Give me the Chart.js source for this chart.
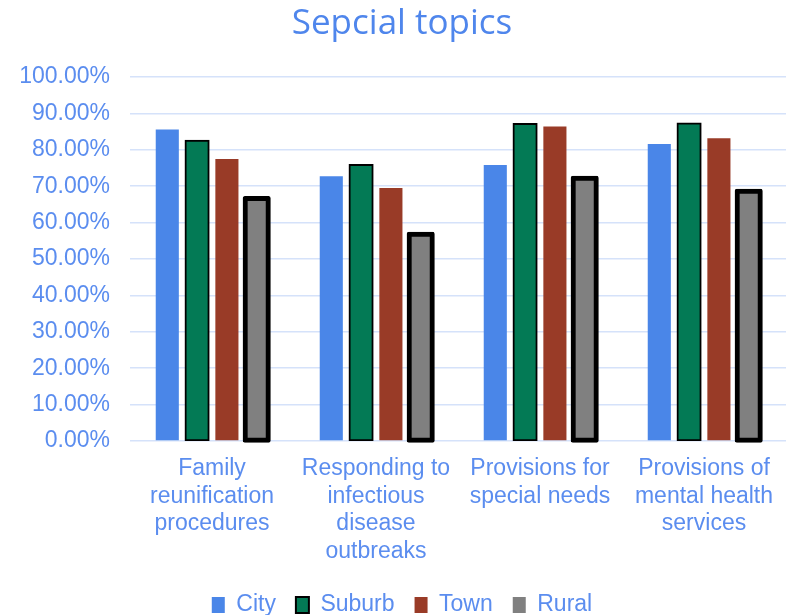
<!DOCTYPE html>
<html>
<head>
<meta charset="utf-8">
<script src="https://cdn.jsdelivr.net/npm/chart.js@4"></script>
<style>
  html, body { margin: 0; padding: 0; background: #ffffff; }
  #wrap { width: 788px; height: 615px; position: relative; }
</style>
</head>
<body>
<div id="wrap"><canvas id="c"></canvas></div>
<script>
const categories = [
  ["Family", "reunification", "procedures"],
  ["Responding to", "infectious", "disease", "outbreaks"],
  ["Provisions for", "special needs"],
  ["Provisions of", "mental health", "services"]
];
const seriesNames = ["City", "Suburb", "Town", "Rural"];
const cityValues   = [85.6, 72.7, 75.8, 81.6];
const suburbValues = [82.5, 75.8, 87.1, 87.2];
const townValues   = [77.5, 69.5, 86.4, 83.2];
const ruralValues  = [66.6, 56.8, 72.2, 68.6];
const yTicks = [0, 10, 20, 30, 40, 50, 60, 70, 80, 90, 100];

const textColor = '#5b8def';
const gridColor = '#d5e2fa';

new Chart(document.getElementById('c'), {
  type: 'bar',
  data: {
    labels: categories,
    datasets: [
      { label: seriesNames[0], data: cityValues, backgroundColor: '#4a86e8', borderWidth: 0, inflateAmount: 0 },
      { label: seriesNames[1], data: suburbValues, backgroundColor: '#037a55', borderColor: '#000000', borderWidth: 2, borderSkipped: false, inflateAmount: 1 },
      { label: seriesNames[2], data: townValues, backgroundColor: '#993b27', borderWidth: 0, inflateAmount: 0 },
      { label: seriesNames[3], data: ruralValues, backgroundColor: '#808080', borderColor: '#000000', borderWidth: 5, borderSkipped: false, inflateAmount: 2.5, borderRadius: 2, clip: false }
    ]
  },
  options: {
    responsive: true,
    maintainAspectRatio: false,
    animation: false,
    categoryPercentage: 0.727,
    barPercentage: 0.775,
    layout: { padding: { left: 18, right: 2, top: 0, bottom: -11.5 } },
    plugins: {
      title: {
        display: true,
        text: 'Sepcial topics',
        color: '#4f86ec',
        font: { family: '"Open Sans", sans-serif', size: 35, weight: 'normal' },
        padding: { top: 3, bottom: 32 }
      },
      legend: {
        position: 'bottom',
        labels: {
          color: textColor,
          font: { family: '"Liberation Sans", Arial, sans-serif', size: 23 },
          boxWidth: 13,
          boxHeight: 16,
          padding: 20,
          generateLabels: (chart) => {
            const items = Chart.defaults.plugins.legend.labels.generateLabels(chart);
            items.forEach((it, i) => {
              it.lineWidth = (i === 1) ? 2 : 0;
              it.strokeStyle = '#000000';
            });
            return items;
          }
        }
      },
      tooltip: { enabled: false }
    },
    scales: {
      x: {
        grid: { display: false, drawTicks: false },
        border: { display: false },
        afterFit: (s) => { s.height = 132.5; },
        ticks: {
          color: textColor,
          font: { family: '"Liberation Sans", Arial, sans-serif', size: 23, lineHeight: 1.2 },
          maxRotation: 0,
          autoSkip: false,
          padding: 14
        }
      },
      y: {
        min: 0,
        max: 100,
        afterBuildTicks: (axis) => { axis.ticks = yTicks.map(v => ({ value: v })); },
        afterFit: (s) => { s.width = 112; },
        grid: { color: gridColor, lineWidth: 1.6, drawTicks: false },
        border: { display: false },
        ticks: {
          color: textColor,
          font: { family: '"Liberation Sans", Arial, sans-serif', size: 23 },
          padding: 20,
          callback: (v) => Number(v).toFixed(2) + '%'
        }
      }
    }
  }
});
</script>
</body>
</html>
